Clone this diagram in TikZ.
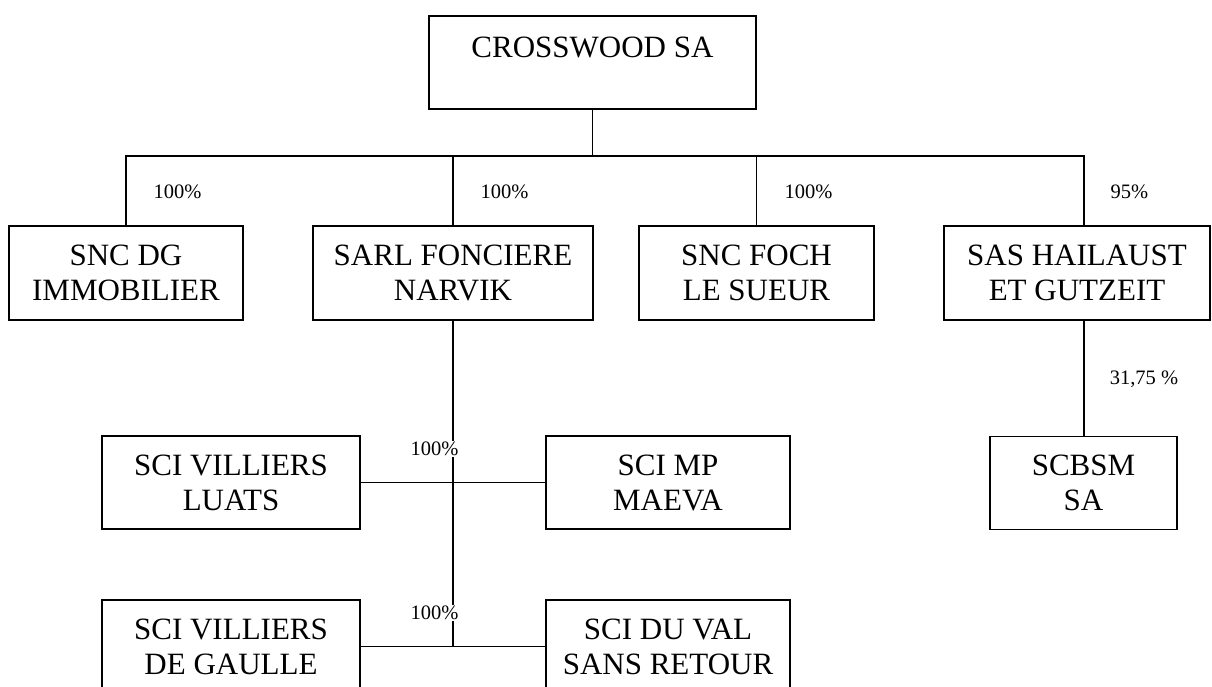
\documentclass[tikz,border=0pt]{standalone}
\usepackage{fontspec}
\setmainfont{Liberation Serif}
\begin{document}
\begin{tikzpicture}[x=1pt,y=-1pt,
  entity/.style={draw, line width=1.3pt, rectangle, inner sep=0pt, minimum height=93pt,
    align=center, font=\fontsize{31}{35}\selectfont},
  pct/.style={inner sep=1pt, fill=white, font=\fontsize{20.5}{24}\selectfont},
  link/.style={line width=1.3pt}]
\useasboundingbox (0,0) rectangle (1212,687);
\clip (0,0) rectangle (1212,687);
% entities
\node[entity, minimum width=327pt] (cw) at (592.5,62.5) {CROSSWOOD SA\\[-14pt]\strut};
\node[entity, minimum width=234pt, minimum height=94pt] (sncdg) at (126,273) {SNC DG\\IMMOBILIER};
\node[entity, minimum width=280pt, minimum height=94pt] (sarl) at (453,273) {SARL FONCIERE\\NARVIK};
\node[entity, minimum width=235pt, minimum height=94pt] (foch) at (756.5,273) {SNC FOCH\\LE SUEUR};
\node[entity, minimum width=266pt, minimum height=94pt] (sas) at (1077,273) {SAS HAILAUST\\ET GUTZEIT};
\node[entity, minimum width=187pt] (scbsm) at (1083.5,483) {SCBSM\\SA};
\node[entity, minimum width=258pt] (luats) at (231,482.5) {SCI VILLIERS\\LUATS};
\node[entity, minimum width=244pt] (mp) at (668,482.5) {SCI MP\\MAEVA};
\node[entity, minimum width=258pt] (gaulle) at (231,646.5) {SCI VILLIERS\\DE GAULLE};
\node[entity, minimum width=244pt] (val) at (668,646.5) {SCI DU VAL\\SANS RETOUR};
% bus coordinates
\coordinate (busL) at (126,156);
\coordinate (busR) at (1084,156);
\coordinate (sasTop) at (1084,226);
\coordinate (sasBot) at (1084,320);
% connectors
\draw[link] (cw.south) -- (cw.south |- busL);
\draw[link] (sncdg.north) -- (busL) -- (busR) -- (sasTop);
\draw[link] (sarl.north) -- (sarl.north |- busL);
\draw[link] (foch.north) -- (foch.north |- busL);
\draw[link] (sasBot) -- (sasBot |- scbsm.north);
\draw[link] (sarl.south) -- (sarl.south |- gaulle.east);
\draw[link] (luats.east) -- (mp.west);
\draw[link] (gaulle.east) -- (val.west);
% percentages
\node[pct] (p1) at (177.5,192) {100\%};
\node[pct] (p2) at (504.5,192) {100\%};
\node[pct] (p3) at (808.5,192) {100\%};
\node[pct] (p4) at (1129.5,192) {95\%};
\node[pct] (p5) at (1144,379) {31,75 \%};
\node[pct] (p6) at (434.5,449) {100\%};
\node[pct] (p7) at (434.5,613) {100\%};
\end{tikzpicture}
\end{document}
